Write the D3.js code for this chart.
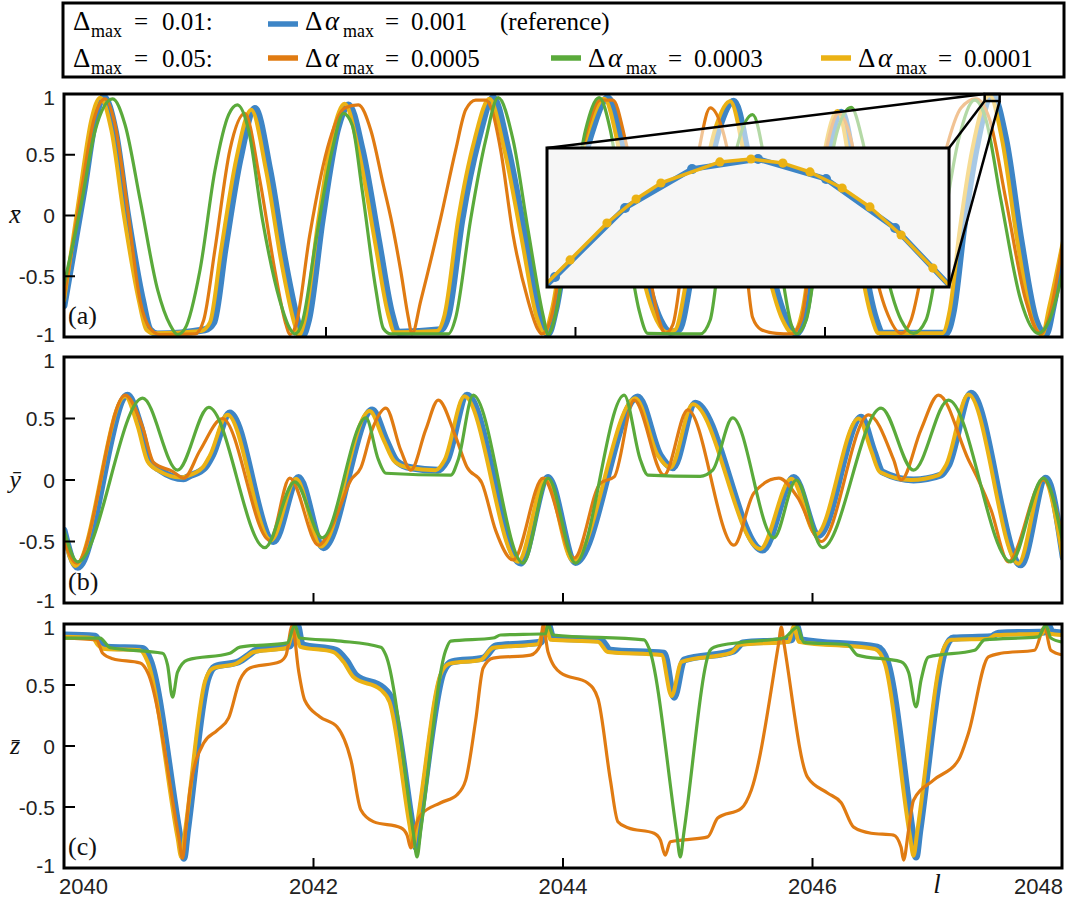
<!DOCTYPE html>
<html>
<head>
<meta charset="utf-8">
<script src="https://cdn.jsdelivr.net/npm/d3@7"></script>
<style>
body { margin: 0; background: #fff; }
</style>
</head>
<body>
<div id="chart"></div>
<script>
// series: [l, value]
// panel (a) x-bar
var xBlue = [[2039.90,-0.74],[2040.06,0.21],[2040.15,0.79],[2040.22,0.975],[2040.31,0.70],[2040.41,0],[2040.53,-0.70],[2040.59,-0.94],[2040.65,-0.975],[2041.03,-0.94],[2041.10,-0.88],[2041.19,-0.28],[2041.31,0.46],[2041.43,0.88],[2041.55,0.37],[2041.67,-0.37],[2041.78,-0.90],[2041.81,-0.99],[2041.86,-0.86],[2041.97,-0.03],[2042.09,0.70],[2042.18,0.91],[2042.29,0.54],[2042.42,-0.20],[2042.53,-0.82],[2042.58,-0.96],[2042.92,-0.94],[2042.98,-0.82],[2043.09,-0.03],[2043.22,0.62],[2043.34,0.97],[2043.46,0.54],[2043.60,-0.20],[2043.72,-0.84],[2043.78,-0.975],[2043.84,-0.78],[2043.96,-0.03],[2044.11,0.62],[2044.26,0.97],[2044.38,0.54],[2044.52,-0.28],[2044.68,-0.86],[2044.76,-0.96],[2044.83,-0.94],[2044.92,-0.53],[2045.04,0.21],[2045.16,0.745],[2045.27,0.94],[2045.39,0.46],[2045.53,-0.28],[2045.69,-0.86],[2045.77,-0.97],[2045.85,-0.78],[2045.93,-0.20],[2046.03,0.54],[2046.13,0.85],[2046.22,0.46],[2046.30,-0.28],[2046.41,-0.86],[2046.46,-0.97],[2046.97,-0.97],[2047.03,-0.78],[2047.11,-0.12],[2047.21,0.54],[2047.34,0.995],[2047.45,0.62],[2047.57,-0.20],[2047.69,-0.86],[2047.77,-0.98],[2047.83,-0.74],[2047.91,-0.28]];
var xYellow = [[2039.90,-0.70],[2040.03,0.21],[2040.12,0.79],[2040.19,0.97],[2040.28,0.70],[2040.38,0],[2040.50,-0.70],[2040.56,-0.94],[2040.62,-0.97],[2041.00,-0.95],[2041.07,-0.88],[2041.16,-0.28],[2041.28,0.46],[2041.40,0.87],[2041.52,0.37],[2041.64,-0.37],[2041.75,-0.90],[2041.78,-0.99],[2041.83,-0.86],[2041.94,-0.03],[2042.06,0.70],[2042.15,0.92],[2042.26,0.54],[2042.39,-0.20],[2042.50,-0.82],[2042.55,-0.96],[2042.89,-0.95],[2042.95,-0.82],[2043.06,-0.03],[2043.19,0.62],[2043.31,0.96],[2043.43,0.54],[2043.57,-0.20],[2043.69,-0.84],[2043.75,-0.97],[2043.81,-0.78],[2043.93,-0.03],[2044.08,0.62],[2044.23,0.96],[2044.35,0.54],[2044.49,-0.28],[2044.65,-0.86],[2044.73,-0.96],[2044.80,-0.94],[2044.89,-0.53],[2045.01,0.21],[2045.13,0.745],[2045.24,0.94],[2045.36,0.46],[2045.50,-0.28],[2045.66,-0.86],[2045.74,-0.97],[2045.82,-0.78],[2045.90,-0.20],[2046.00,0.54],[2046.10,0.86],[2046.19,0.46],[2046.27,-0.28],[2046.38,-0.86],[2046.43,-0.97],[2046.94,-0.97],[2047.00,-0.78],[2047.08,-0.12],[2047.18,0.54],[2047.32,0.99],[2047.42,0.62],[2047.54,-0.20],[2047.66,-0.86],[2047.74,-0.98],[2047.80,-0.74],[2047.91,-0.20]];
var xOrange = [[2039.90,-0.68],[2040.04,0.21],[2040.14,0.79],[2040.23,0.96],[2040.31,0.745],[2040.41,0.05],[2040.51,-0.70],[2040.59,-0.93],[2040.67,-0.98],[2040.95,-0.975],[2041.02,-0.86],[2041.11,-0.28],[2041.23,0.54],[2041.35,0.84],[2041.47,0.29],[2041.59,-0.45],[2041.68,-0.90],[2041.71,-0.98],[2041.76,-0.90],[2041.87,-0.16],[2042.03,0.62],[2042.15,0.885],[2042.26,0.91],[2042.36,0.70],[2042.46,0.25],[2042.52,-0.02],[2042.60,-0.46],[2042.66,-0.84],[2042.69,-0.975],[2042.76,-0.70],[2042.92,-0.02],[2043.04,0.54],[2043.12,0.87],[2043.20,0.95],[2043.28,0.95],[2043.33,0.87],[2043.40,0.54],[2043.50,-0.16],[2043.62,-0.70],[2043.70,-0.94],[2043.73,-0.975],[2043.80,-0.86],[2043.92,-0.16],[2044.07,0.62],[2044.20,0.95],[2044.30,0.95],[2044.40,0.62],[2044.56,-0.28],[2044.67,-0.86],[2044.72,-0.97],[2044.78,-0.90],[2044.88,-0.20],[2044.99,0.54],[2045.08,0.885],[2045.18,0.70],[2045.29,0.13],[2045.37,-0.45],[2045.42,-0.84],[2045.49,-0.94],[2045.61,-0.97],[2045.73,-0.975],[2045.81,-0.86],[2045.90,-0.20],[2046.01,0.54],[2046.11,0.84],[2046.21,0.62],[2046.33,-0.12],[2046.49,-0.78],[2046.61,-0.97],[2046.69,-0.86],[2046.81,-0.28],[2046.97,0.54],[2047.09,0.885],[2047.21,0.96],[2047.32,0.79],[2047.45,0.13],[2047.61,-0.70],[2047.73,-0.975],[2047.80,-0.82],[2047.91,-0.20]];
var xGreen = [[2039.90,-0.57],[2040.03,0.05],[2040.15,0.70],[2040.29,0.96],[2040.39,0.745],[2040.51,0.13],[2040.65,-0.61],[2040.75,-0.90],[2040.81,-0.98],[2040.87,-0.93],[2040.99,-0.45],[2041.11,0.37],[2041.22,0.83],[2041.29,0.91],[2041.38,0.70],[2041.49,-0.03],[2041.63,-0.70],[2041.71,-0.93],[2041.75,-0.975],[2041.81,-0.88],[2041.92,-0.20],[2042.05,0.54],[2042.14,0.84],[2042.21,0.745],[2042.29,0.21],[2042.40,-0.61],[2042.46,-0.93],[2042.52,-0.975],[2042.98,-0.975],[2043.04,-0.84],[2043.16,-0.03],[2043.28,0.62],[2043.38,0.97],[2043.50,0.62],[2043.62,-0.12],[2043.74,-0.82],[2043.78,-0.98],[2043.84,-0.82],[2043.96,-0.03],[2044.08,0.70],[2044.19,0.97],[2044.28,0.70],[2044.40,-0.12],[2044.51,-0.78],[2044.58,-0.97],[2045.00,-0.975],[2045.08,-0.86],[2045.16,-0.28],[2045.29,0.54],[2045.42,0.83],[2045.53,0.37],[2045.65,-0.45],[2045.73,-0.90],[2045.77,-0.975],[2045.85,-0.86],[2045.97,-0.03],[2046.10,0.70],[2046.21,0.89],[2046.30,0.62],[2046.45,-0.28],[2046.61,-0.86],[2046.71,-0.97],[2046.81,-0.86],[2046.93,-0.20],[2047.07,0.62],[2047.20,0.95],[2047.29,0.79],[2047.41,0.13],[2047.57,-0.70],[2047.71,-0.97],[2047.80,-0.86],[2047.91,-0.45]];

// panel (b) y-bar
var yBlue = [[2040.00,-0.41],[2040.11,-0.71],[2040.51,0.69],[2040.61,0.45],[2040.69,0.15],[2040.77,0.08],[2040.96,0.01],[2041.00,0.03],[2041.13,0.10],[2041.19,0.20],[2041.33,0.545],[2041.68,-0.50],[2041.88,0.02],[2042.08,-0.55],[2042.47,0.57],[2042.58,0.33],[2042.67,0.15],[2042.78,0.10],[2043.00,0.08],[2043.07,0.16],[2043.23,0.69],[2043.66,-0.675],[2043.88,0.02],[2044.10,-0.67],[2044.60,0.675],[2044.78,0.20],[2044.88,0.10],[2045.06,0.625],[2045.60,-0.57],[2045.85,0.02],[2046.05,-0.45],[2046.39,0.51],[2046.49,0.24],[2046.56,0.065],[2046.81,0],[2047.03,0.04],[2047.09,0.12],[2047.27,0.705],[2047.67,-0.69],[2047.87,0.015],[2048.01,-0.63]];
var yYellow = [[2040.00,-0.45],[2040.09,-0.70],[2040.49,0.68],[2040.59,0.44],[2040.67,0.15],[2040.75,0.08],[2040.94,0.02],[2040.98,0.03],[2041.11,0.10],[2041.17,0.20],[2041.31,0.53],[2041.66,-0.49],[2041.86,0.01],[2042.06,-0.54],[2042.45,0.56],[2042.56,0.33],[2042.65,0.15],[2042.76,0.10],[2042.98,0.08],[2043.05,0.16],[2043.21,0.68],[2043.64,-0.665],[2043.86,0.01],[2044.08,-0.66],[2044.58,0.665],[2044.76,0.20],[2044.86,0.10],[2045.04,0.615],[2045.58,-0.56],[2045.83,0.01],[2046.03,-0.44],[2046.37,0.50],[2046.47,0.24],[2046.54,0.065],[2046.79,0],[2047.01,0.04],[2047.07,0.12],[2047.25,0.695],[2047.65,-0.68],[2047.85,0.01],[2048.01,-0.66]];
var yOrange = [[2040.00,-0.49],[2040.10,-0.675],[2040.49,0.69],[2040.63,0.43],[2040.72,0.14],[2040.87,0.07],[2040.96,0.015],[2041.09,0.24],[2041.27,0.50],[2041.65,-0.49],[2041.81,0.015],[2042.04,-0.53],[2042.17,-0.325],[2042.30,0],[2042.38,0.10],[2042.47,0.41],[2042.58,0.585],[2042.70,0.24],[2042.78,0.08],[2042.90,0.41],[2043.00,0.65],[2043.14,0.35],[2043.23,0.105],[2043.35,-0.025],[2043.46,-0.41],[2043.60,-0.65],[2043.84,0.015],[2044.09,-0.635],[2044.30,-0.025],[2044.41,0.025],[2044.57,0.65],[2044.81,0.04],[2045.00,0.57],[2045.37,-0.53],[2045.53,-0.105],[2045.73,0.015],[2045.88,-0.14],[2046.07,-0.50],[2046.45,0.53],[2046.65,0.165],[2046.71,0],[2046.87,0.41],[2047.01,0.69],[2047.25,0.165],[2047.33,0],[2047.43,-0.24],[2047.57,-0.665],[2047.85,0],[2048.01,-0.49]];
var yGreen = [[2040.00,-0.41],[2040.11,-0.665],[2040.63,0.665],[2040.91,0.08],[2041.16,0.59],[2041.61,-0.55],[2041.85,-0.015],[2042.07,-0.47],[2042.42,0.505],[2042.52,0.165],[2042.58,0.055],[2043.10,0.04],[2043.16,0.165],[2043.28,0.69],[2043.68,-0.675],[2043.88,0.015],[2044.10,-0.675],[2044.49,0.69],[2044.62,0.165],[2044.68,0.04],[2045.10,0.03],[2045.20,0.08],[2045.36,0.505],[2045.69,-0.47],[2045.87,0],[2046.08,-0.55],[2046.55,0.585],[2046.81,0.08],[2047.09,0.65],[2047.59,-0.665],[2047.85,0.015],[2048.01,-0.53]];

// panel (c) z-bar
var zBlue = [[2040.00,0.91],[2040.25,0.90],[2040.29,0.845],[2040.35,0.81],[2040.63,0.80],[2040.69,0.705],[2040.93,-0.75],[2040.96,-0.92],[2040.99,-0.69],[2041.15,0.54],[2041.21,0.65],[2041.40,0.69],[2041.48,0.745],[2041.54,0.785],[2041.81,0.82],[2041.87,0.99],[2041.91,0.83],[2042.18,0.785],[2042.26,0.705],[2042.34,0.58],[2042.56,0.475],[2042.63,0.375],[2042.79,-0.64],[2042.82,-0.83],[2042.85,-0.63],[2043.04,0.605],[2043.11,0.69],[2043.36,0.72],[2043.46,0.82],[2043.82,0.85],[2043.88,1.0],[2043.92,0.885],[2044.30,0.87],[2044.38,0.785],[2044.81,0.76],[2044.89,0.40],[2044.97,0.705],[2045.37,0.78],[2045.44,0.845],[2045.83,0.87],[2045.87,0.99],[2045.91,0.87],[2046.52,0.81],[2046.60,0.69],[2046.80,-0.70],[2046.83,-0.91],[2046.86,-0.695],[2047.07,0.81],[2047.13,0.885],[2047.43,0.895],[2047.49,0.925],[2047.86,0.935],[2047.89,0.99],[2047.92,0.935],[2048.01,0.925]];
var zYellow = [[2040.00,0.895],[2040.23,0.885],[2040.27,0.83],[2040.33,0.795],[2040.61,0.785],[2040.67,0.69],[2040.91,-0.75],[2040.94,-0.91],[2040.97,-0.70],[2041.13,0.53],[2041.19,0.635],[2041.38,0.675],[2041.46,0.73],[2041.52,0.77],[2041.79,0.805],[2041.85,0.98],[2041.89,0.815],[2042.16,0.77],[2042.24,0.69],[2042.32,0.565],[2042.54,0.46],[2042.61,0.36],[2042.77,-0.65],[2042.80,-0.82],[2042.83,-0.64],[2043.02,0.59],[2043.09,0.675],[2043.34,0.705],[2043.44,0.805],[2043.80,0.835],[2043.86,0.99],[2043.90,0.87],[2044.28,0.855],[2044.36,0.77],[2044.79,0.745],[2044.87,0.41],[2044.95,0.69],[2045.35,0.765],[2045.42,0.83],[2045.81,0.855],[2045.85,0.98],[2045.89,0.855],[2046.50,0.795],[2046.58,0.675],[2046.78,-0.73],[2046.81,-0.90],[2046.84,-0.70],[2047.05,0.795],[2047.11,0.87],[2047.41,0.88],[2047.47,0.91],[2047.84,0.92],[2047.87,0.98],[2047.90,0.92],[2048.01,0.91]];
var zOrange = [[2040.00,0.885],[2040.26,0.87],[2040.31,0.76],[2040.39,0.715],[2040.61,0.68],[2040.67,0.605],[2040.92,-0.75],[2040.95,-0.92],[2040.98,-0.65],[2041.01,-0.36],[2041.12,0.025],[2041.23,0.13],[2041.32,0.23],[2041.41,0.54],[2041.49,0.64],[2041.73,0.69],[2041.78,0.745],[2041.83,0.99],[2041.88,0.62],[2041.93,0.375],[2042.05,0.24],[2042.19,0.155],[2042.30,-0.115],[2042.38,-0.525],[2042.48,-0.62],[2042.70,-0.67],[2042.75,-0.73],[2042.78,-0.835],[2042.81,-0.69],[2042.86,-0.565],[2043.02,-0.465],[2043.15,-0.40],[2043.22,-0.28],[2043.30,0.21],[2043.36,0.64],[2043.44,0.72],[2043.74,0.745],[2043.82,0.83],[2043.84,0.99],[2043.88,0.77],[2043.98,0.60],[2044.20,0.515],[2044.28,0.39],[2044.38,-0.28],[2044.44,-0.62],[2044.52,-0.67],[2044.73,-0.715],[2044.78,-0.77],[2044.82,-0.895],[2044.86,-0.785],[2044.97,-0.77],[2045.16,-0.745],[2045.24,-0.59],[2045.43,-0.51],[2045.51,-0.36],[2045.73,0.85],[2045.75,0.975],[2045.77,0.85],[2045.96,-0.255],[2046.12,-0.385],[2046.23,-0.465],[2046.33,-0.665],[2046.47,-0.715],[2046.65,-0.73],[2046.71,-0.83],[2046.73,-0.935],[2046.77,-0.69],[2046.81,-0.445],[2046.97,-0.28],[2047.17,-0.115],[2047.25,0.105],[2047.41,0.73],[2047.51,0.76],[2047.78,0.785],[2047.86,0.975],[2047.91,0.785],[2048.01,0.745]];
var zGreen = [[2040.00,0.885],[2040.29,0.885],[2040.37,0.805],[2040.79,0.76],[2040.83,0.665],[2040.87,0.40],[2040.91,0.605],[2040.99,0.705],[2041.33,0.76],[2041.41,0.81],[2041.79,0.845],[2041.85,0.99],[2041.89,0.885],[2042.22,0.86],[2042.54,0.81],[2042.58,0.745],[2042.80,-0.71],[2042.83,-0.91],[2042.86,-0.69],[2043.06,0.785],[2043.10,0.86],[2043.44,0.885],[2043.50,0.91],[2043.86,0.92],[2043.88,1.0],[2043.92,0.91],[2044.65,0.87],[2044.69,0.80],[2044.91,-0.70],[2044.94,-0.91],[2044.97,-0.70],[2045.18,0.785],[2045.21,0.81],[2045.43,0.85],[2045.77,0.885],[2045.88,0.975],[2045.93,0.85],[2046.28,0.83],[2046.36,0.745],[2046.71,0.69],[2046.77,0.605],[2046.83,0.32],[2046.87,0.54],[2046.93,0.73],[2047.30,0.785],[2047.38,0.87],[2047.81,0.895],[2047.87,0.99],[2047.91,0.885],[2048.01,0.85]];

// zoomed inset of panel (a), raw samples
var insetBlue = [[2047.262,0.918],[2047.2824,0.9462],[2047.3033,0.9750],[2047.3233,0.9912],[2047.3430,0.9954],[2047.3633,0.9871],[2047.3839,0.9666],[2047.4042,0.9366]];
var insetYellow = [[2047.2779,0.9407],[2047.2869,0.9533],[2047.2979,0.9687],[2047.3066,0.9787],[2047.3140,0.9854],[2047.3316,0.9942],[2047.3409,0.9954],[2047.3504,0.9937],[2047.3585,0.9900],[2047.3681,0.9833],[2047.3764,0.9754],[2047.3857,0.9637],[2047.3952,0.9499],[2047.4040,0.9366]];
var insetL = [2047.28, 2047.40];
var insetV = [0.942, 1.0];

var yTicks = [-1, -0.5, 0, 0.5, 1];
var xTicks = [2040, 2042, 2044, 2046, 2048];
var innerXTicks = [2042, 2044, 2046];

var legendRows = [
  {head: "0.01:", items: [{value: "0.001", note: "(reference)", color: "blue"}]},
  {head: "0.05:", items: [{value: "0.0005", color: "orange"}, {value: "0.0003", color: "green"}, {value: "0.0001", color: "yellow"}]}
];

var colors = {blue: "#3d85c6", yellow: "#ebb214", orange: "#e07b12", green: "#5aaa3b"};
var widths = {blue: 7, yellow: 4, orange: 3.2, green: 3.2};
var order = ["blue", "yellow", "orange", "green"];

var W = 1067, H = 899;
var left = 64, right = 1062;

var panels = [
  {id: "a", top: 94, bottom: 337, domain: [2039.9, 2047.9], tag: "(a)", sym: "x", data: {blue: xBlue, yellow: xYellow, orange: xOrange, green: xGreen}},
  {id: "b", top: 357, bottom: 603, domain: [2040, 2048], tag: "(b)", sym: "y", data: {blue: yBlue, yellow: yYellow, orange: yOrange, green: yGreen}},
  {id: "c", top: 624, bottom: 868, domain: [2040, 2048], tag: "(c)", sym: "z", data: {blue: zBlue, yellow: zYellow, orange: zOrange, green: zGreen}}
];

var svg = d3.select("#chart").append("svg")
  .attr("width", W).attr("height", H)
  .style("font-family", "'Liberation Sans', Arial, sans-serif");

var serif = "'Liberation Serif', 'Times New Roman', serif";

// legend
var lg = svg.append("g");
lg.append("rect").attr("x", 63).attr("y", 3).attr("width", 1001).attr("height", 74)
  .attr("fill", "#fff").attr("stroke", "#000").attr("stroke-width", 3);

var rowY = [30, 67];
var rowSw = [24, 58];
var itemX = [305, 588, 858];

legendRows.forEach(function(row, i) {
  var t = lg.append("text").attr("y", rowY[i]).attr("font-family", serif).attr("font-size", 25).attr("fill", "#000");
  t.append("tspan").attr("x", 73).attr("font-size", 27).text("Δ");
  t.append("tspan").attr("x", 91).attr("dy", 7).attr("font-size", 18).text("max");
  t.append("tspan").attr("x", 134).attr("dy", -7).text("=");
  t.append("tspan").attr("x", 162).text(row.head);

  row.items.forEach(function(it, j) {
    var x0 = itemX[j];
    lg.append("line").attr("x1", x0 - 37).attr("x2", x0 - 7)
      .attr("y1", rowSw[i]).attr("y2", rowSw[i])
      .attr("stroke", colors[it.color]).attr("stroke-width", 5.5);
    var tt = lg.append("text").attr("y", rowY[i]).attr("font-family", serif).attr("font-size", 25).attr("fill", "#000");
    tt.append("tspan").attr("x", x0).attr("font-size", 27).text("Δ");
    tt.append("tspan").attr("x", x0 + 20).attr("font-size", 27).attr("font-style", "italic").text("α");
    tt.append("tspan").attr("x", x0 + 38).attr("dy", 7).attr("font-size", 18).text("max");
    tt.append("tspan").attr("x", x0 + 80).attr("dy", -7).text("=");
    tt.append("tspan").attr("x", x0 + 106).text(it.value);
    if (it.note) tt.append("tspan").attr("x", 500).text(it.note);
  });
});

panels.forEach(function(p) {
  var x = d3.scaleLinear().domain(p.domain).range([left, right]);
  var y = d3.scaleLinear().domain([-1, 1]).range([p.bottom, p.top]);
  var g = svg.append("g");

  g.append("clipPath").attr("id", "clip-" + p.id)
    .append("rect").attr("x", left).attr("y", p.top).attr("width", right - left).attr("height", p.bottom - p.top);

  var line = d3.line().x(function(d) { return x(d[0]); }).y(function(d) { return y(d[1]); })
    .curve(d3.curveMonotoneX);

  var plot = g.append("g").attr("clip-path", "url(#clip-" + p.id + ")");
  order.forEach(function(k) {
    plot.append("path").datum(p.data[k])
      .attr("d", line)
      .attr("fill", "none")
      .attr("stroke", colors[k])
      .attr("stroke-width", widths[k])
      .attr("stroke-linejoin", "round")
      .attr("stroke-linecap", "round");
  });

  if (p.id === "a") {
    // zoom region and inset
    var bx0 = x(insetL[0]), bx1 = x(insetL[1]), by0 = y(insetV[1]), by1 = y(insetV[0]);
    var ix0 = 547, ix1 = 949, iy0 = 148, iy1 = 287;
    plot.append("polygon")
      .attr("points", [[ix0, iy0], [bx0, by0], [bx1, by0], [bx1, by1], [ix1, iy1], [ix1, iy0]].join(" "))
      .attr("fill", "#fff").attr("fill-opacity", 0.55);
    g.append("line").attr("x1", ix0).attr("y1", iy0).attr("x2", bx0).attr("y2", by0).attr("stroke", "#000").attr("stroke-width", 2.5);
    g.append("line").attr("x1", ix1).attr("y1", iy0).attr("x2", bx0).attr("y2", by1).attr("stroke", "#000").attr("stroke-width", 2.5);
    g.append("line").attr("x1", ix1).attr("y1", iy1).attr("x2", bx1).attr("y2", by1).attr("stroke", "#000").attr("stroke-width", 2.5);
    g.append("rect").attr("x", bx0).attr("y", by0).attr("width", bx1 - bx0).attr("height", by1 - by0)
      .attr("fill", "none").attr("stroke", "#000").attr("stroke-width", 2.5);

    var ix = d3.scaleLinear().domain(insetL).range([ix0, ix1]);
    var iy = d3.scaleLinear().domain(insetV).range([iy1, iy0]);
    g.append("clipPath").attr("id", "clip-inset")
      .append("rect").attr("x", ix0).attr("y", iy0).attr("width", ix1 - ix0).attr("height", iy1 - iy0);
    g.append("rect").attr("x", ix0).attr("y", iy0).attr("width", ix1 - ix0).attr("height", iy1 - iy0)
      .attr("fill", "#f6f6f6");
    var ig = g.append("g").attr("clip-path", "url(#clip-inset)");
    var iline = d3.line().x(function(d) { return ix(d[0]); }).y(function(d) { return iy(d[1]); });
    [[insetBlue, "blue", 5.5, 5], [insetYellow, "yellow", 3.5, 4.6]].forEach(function(s) {
      ig.append("path").datum(s[0]).attr("d", iline).attr("fill", "none")
        .attr("stroke", colors[s[1]]).attr("stroke-width", s[2]).attr("stroke-linejoin", "round");
      ig.selectAll(null).data(s[0]).enter().append("circle")
        .attr("cx", function(d) { return ix(d[0]); }).attr("cy", function(d) { return iy(d[1]); })
        .attr("r", s[3]).attr("fill", colors[s[1]]);
    });
    g.append("rect").attr("x", ix0).attr("y", iy0).attr("width", ix1 - ix0).attr("height", iy1 - iy0)
      .attr("fill", "none").attr("stroke", "#000").attr("stroke-width", 3);
  }

  // inner ticks
  g.selectAll(".yt").data([-0.5, 0, 0.5]).enter().append("line")
    .attr("x1", left).attr("x2", left + 11)
    .attr("y1", function(d) { return y(d); }).attr("y2", function(d) { return y(d); })
    .attr("stroke", "#000").attr("stroke-width", 2);
  g.selectAll(".xt").data(innerXTicks).enter().append("line")
    .attr("x1", function(d) { return x(d); }).attr("x2", function(d) { return x(d); })
    .attr("y1", p.bottom).attr("y2", p.bottom - 10)
    .attr("stroke", "#000").attr("stroke-width", 2);

  g.append("rect").attr("x", left).attr("y", p.top).attr("width", right - left).attr("height", p.bottom - p.top)
    .attr("fill", "none").attr("stroke", "#000").attr("stroke-width", 3);

  // y tick labels (the end labels nudged inward so neighbouring panels do not collide)
  g.selectAll(".yl").data(yTicks).enter().append("text")
    .attr("x", 55).attr("y", function(d) { return y(d) + (d === 1 ? 3 : d === -1 ? -3 : 0); }).attr("dy", "0.36em")
    .attr("text-anchor", "end").attr("font-size", 21).attr("fill", "#222")
    .text(function(d) { return String(d); });

  // axis symbol
  g.append("text").attr("x", 15).attr("y", y(0)).attr("dy", "0.3em")
    .attr("text-anchor", "middle").attr("font-family", serif).attr("font-style", "italic")
    .attr("font-size", 26).attr("fill", "#111")
    .text(p.sym + "\u0304");

  g.append("text").attr("x", 68).attr("y", p.bottom - 13)
    .attr("font-family", serif).attr("font-size", 26).attr("fill", "#111").text(p.tag);

  if (p.id === "c") {
    g.selectAll(".xl").data(xTicks).enter().append("text")
      .attr("x", function(d, i) { return x(d) + (i === 0 ? -5 : i === xTicks.length - 1 ? 1 : 0); })
      .attr("y", 894)
      .attr("text-anchor", function(d, i) { return i === 0 ? "start" : i === xTicks.length - 1 ? "end" : "middle"; })
      .attr("font-size", 22).attr("fill", "#222")
      .text(function(d) { return d; });
    g.append("text").attr("x", 937).attr("y", 893).attr("text-anchor", "middle")
      .attr("font-family", serif).attr("font-style", "italic").attr("font-size", 27).attr("fill", "#111").text("l");
  }
});
</script>
</body>
</html>
